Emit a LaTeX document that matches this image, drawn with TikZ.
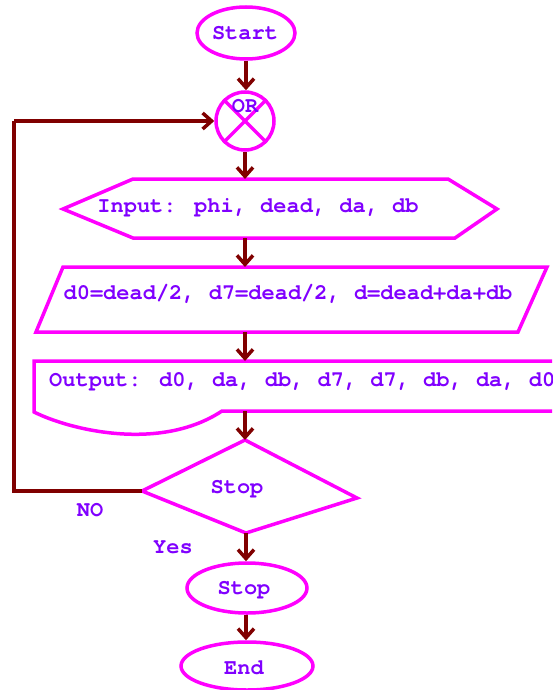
\documentclass[tikz,border=0pt]{standalone}
\usepackage{fontspec}
\setmainfont{TeX Gyre Cursor}
\usetikzlibrary{arrows.meta,shapes.geometric}
\definecolor{mag}{RGB}{255,0,255}
\definecolor{txt}{RGB}{128,0,255}
\definecolor{dred}{RGB}{128,0,0}
\tikzset{
  box/.style={draw=mag,line width=3.5pt,line join=miter},
  lbl/.style={text=txt,font=\fontsize{22}{26}\selectfont\bfseries,inner sep=0pt},
  flow/.style={draw=dred,line width=3.5pt,-{Straight Barb[length=9pt,width=16pt]}},
  link/.style={draw=dred,line width=3.5pt},
  oval/.style={box,ellipse,inner sep=0pt}
}
\begin{document}
\begin{tikzpicture}[x=1pt,y=-1pt]
\useasboundingbox (0,0) rectangle (552,690);
\clip (0,0) rectangle (552,690);
% Start
\node[oval,minimum width=98pt,minimum height=52pt] (start) at (246,33) {};
\node[lbl] (starttxt) at (245,33) {Start};
% OR circle
\node[box,circle,minimum size=58pt,inner sep=0pt] (or) at (245,121) {};
\draw[box] (or.45) -- (or.225) (or.135) -- (or.315);
\node[lbl] (ortxt) at (245,106) {OR};
% Input hexagon
\coordinate (hexT) at (245,179);
\coordinate (hexB) at (245,238);
\draw[box] (63,209) -- (133,179) -- (448,179) -- (497,209) -- (455,238) -- (133,238) -- cycle;
\node[lbl] (input) at (258,208) {Input: phi, dead, da, db};
% Parallelogram
\coordinate (parT) at (245,267);
\coordinate (parB) at (245,332);
\draw[box] (63,267) -- (547,267) -- (518,332) -- (36,332) -- cycle;
\node[lbl] (calc) at (288,294) {d0=dead/2, d7=dead/2, d=dead+da+db};
% Output document
\coordinate (docT) at (245,361);
\coordinate (docB) at (245,411);
\draw[box] (222,411) -- (565,411) -- (565,361) -- (34,361) -- (34,412)
  .. controls (70,430) and (160,452) .. (222,411) -- cycle;
\node[lbl,anchor=west] (out) at (49,382) {Output: d0, da, db, d7, d7, db, da, d0};
% Diamond
\coordinate (diaT) at (245,440);
\coordinate (diaL) at (142,491);
\coordinate (diaR) at (357,498);
\coordinate (diaB) at (246,533);
\draw[box] (diaT) -- (diaR) -- (diaB) -- (diaL) -- cycle;
\node[lbl] (dtxt) at (237,489) {Stop};
% Stop / End
\node[oval,minimum width=120pt,minimum height=50pt] (stop) at (247,588) {};
\node[lbl] (stoptxt) at (244,590) {Stop};
\node[oval,minimum width=132pt,minimum height=48pt] (end) at (247,666) {};
\node[lbl] (endtxt) at (244,668) {End};
% labels
\node[lbl] (no) at (90,510) {NO};
\node[lbl] (yes) at (173,547) {Yes};
% connectors
\draw[flow] (start.south) -- (start.south |- or.north);
\draw[flow] (or.south) -- (hexT);
\draw[flow] (hexB) -- (parT);
\draw[flow] (parB) -- (docT);
\draw[flow] (docB) -- (diaT);
\draw[flow] (diaB) -- (diaB |- stop.north);
\draw[flow] (diaB |- stop.south) -- (diaB |- end.north);
\coordinate (lb) at (14,491);
\coordinate (lt) at (14,121);
\draw[link] (diaL) -- (lb) -- (lt);
\draw[flow] (lt) -- (or.west);
\end{tikzpicture}
\end{document}
